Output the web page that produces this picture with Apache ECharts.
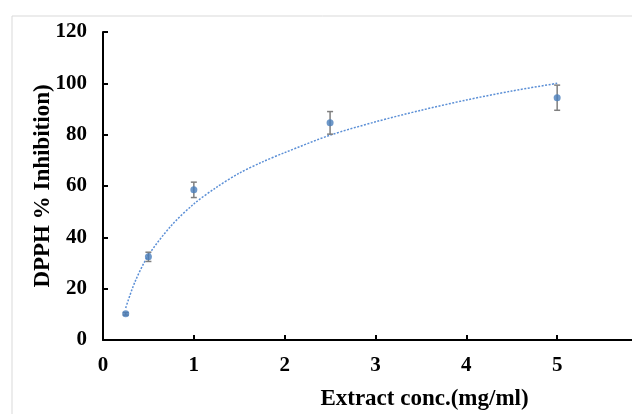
<!DOCTYPE html>
<html>
<head>
<meta charset="utf-8">
<script src="https://cdn.jsdelivr.net/npm/echarts@6/dist/echarts.min.js"></script>
<style>
  html, body { margin: 0; padding: 0; background: #fff; }
  #main { width: 632px; height: 414px; }
</style>
</head>
<body>
<div id="main"></div>
<script>
const chart = echarts.init(document.getElementById('main'));

// measured points (extract conc. in mg/ml, % inhibition, error)
const conc = [0.25, 0.5, 1, 2.5, 5];
const inhibition = [10.2, 32.4, 58.5, 84.6, 94.4];
const errors = [0.5, 1.8, 3.0, 4.4, 4.9];

// dotted trend line
const trendX = [0.25, 0.35, 0.5, 0.75, 1, 1.25, 1.5, 1.75, 2, 2.5, 3, 3.5, 4, 4.5, 5];
const trendY = [12.5, 22.5, 33, 44.5, 53, 59.5, 65, 69.3, 73, 79.8, 85, 89.5, 93.5, 97, 100];

const xTicks = [0, 1, 2, 3, 4, 5, 6];
const yTicks = [0, 20, 40, 60, 80, 100, 120];

const points = conc.map((x, i) => [x, inhibition[i]]);
const bars = conc.map((x, i) => [x, inhibition[i] - errors[i], inhibition[i] + errors[i]]);
const trend = trendX.map((x, i) => [x, trendY[i]]);

const font = 'Liberation Serif';

const options = {
  animation: false,
  grid: { left: 103, top: 32, bottom: 74, width: 545, outerBoundsMode: 'none' },
  graphic: [{
    type: 'rect',
    shape: { x: 12, y: 16, width: 640, height: 420 },
    style: { fill: 'none', stroke: '#d9d9d9', lineWidth: 1 },
    z: -1
  }],
  xAxis: {
    type: 'value',
    min: xTicks[0],
    max: xTicks[xTicks.length - 1],
    interval: 1,
    splitLine: { show: false },
    axisLine: { lineStyle: { color: '#000', width: 2 } },
    axisTick: { inside: true, length: 5, lineStyle: { color: '#000', width: 2 } },
    axisLabel: { color: '#000', fontFamily: font, fontWeight: 'bold', fontSize: 21, margin: 15 },
    name: 'Extract conc.(mg/ml)',
    nameLocation: 'middle',
    nameGap: 48,
    nameMoveOverlap: false,
    nameTextStyle: { color: '#000', fontFamily: font, fontWeight: 'bold', fontSize: 23, padding: [0, 0, 0, 98] }
  },
  yAxis: {
    type: 'value',
    min: yTicks[0],
    max: yTicks[yTicks.length - 1],
    interval: 20,
    splitLine: { show: false },
    axisLine: { show: true, lineStyle: { color: '#000', width: 2 } },
    axisTick: { show: true, inside: true, length: 5, lineStyle: { color: '#000', width: 2 } },
    axisLabel: { color: '#000', fontFamily: font, fontWeight: 'bold', fontSize: 21, margin: 16 },
    name: 'DPPH % Inhibition)',
    nameLocation: 'middle',
    nameGap: 48,
    nameMoveOverlap: false,
    nameTextStyle: { color: '#000', fontFamily: font, fontWeight: 'bold', fontSize: 23 }
  },
  series: [
    {
      name: 'trend',
      type: 'line',
      data: trend,
      smooth: 0.3,
      showSymbol: false,
      lineStyle: { color: '#5b8fd6', width: 1.5, type: [2, 1.5] },
      z: 1
    },
    {
      name: 'error',
      type: 'custom',
      data: bars,
      renderItem: (params, api) => {
        const lo = api.coord([api.value(0), api.value(1)]);
        const hi = api.coord([api.value(0), api.value(2)]);
        const cap = 3;
        const style = { stroke: '#7f7f7f', lineWidth: 1.5 };
        return {
          type: 'group',
          children: [
            { type: 'line', shape: { x1: lo[0], y1: lo[1], x2: hi[0], y2: hi[1] }, style },
            { type: 'line', shape: { x1: lo[0] - cap, y1: lo[1], x2: lo[0] + cap, y2: lo[1] }, style },
            { type: 'line', shape: { x1: hi[0] - cap, y1: hi[1], x2: hi[0] + cap, y2: hi[1] }, style }
          ]
        };
      },
      z: 2
    },
    {
      name: 'DPPH',
      type: 'scatter',
      data: points,
      symbolSize: 7,
      itemStyle: { color: '#4a7ebb' },
      z: 3
    }
  ]
};

chart.setOption(options);
</script>
</body>
</html>
